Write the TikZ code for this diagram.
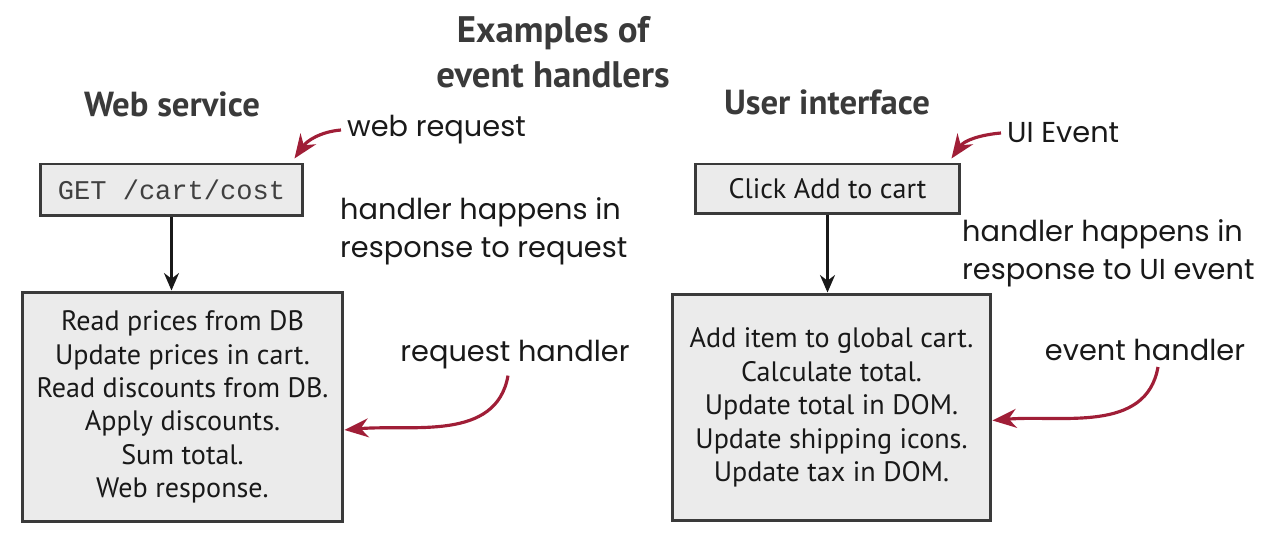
\documentclass[tikz,border=0pt]{standalone}
\usepackage{fontspec}
\setmainfont{PT Sans}
\setmonofont{Liberation Mono}
\newfontfamily\handfont{Poppins}
\usepackage{tikz}
\usetikzlibrary{positioning,arrows.meta}
\definecolor{boxbg}{gray}{0.92}
\definecolor{inkdark}{HTML}{3A3A3A}
\definecolor{notered}{RGB}{160,30,55}

\tikzset{
  box/.style={draw=inkdark,line width=1.7pt,fill=boxbg,align=center,text=black!90,
    font=\fontsize{16}{19}\selectfont},
  heading/.style={font=\bfseries\fontsize{19.8}{22}\selectfont,text=inkdark},
  hand/.style={font=\handfont\fontsize{16.4}{21.5}\selectfont,align=left,text=black!90},
  redarrow/.style={draw=notered,line width=1.8pt,-{Stealth[length=4.8mm,width=3.8mm]}},
  flow/.style={draw=black!90,line width=1.5pt,-{Stealth[length=3.5mm,width=3mm]}}
}

\begin{document}
\begin{tikzpicture}[x=0.02cm,y=-0.02cm]
  \useasboundingbox (0,0) rectangle (1272,540);

  \node[font=\bfseries\fontsize{21}{25.5}\selectfont,text=inkdark,align=center] (title) at (553,52)
    {Examples of\\event handlers};
  \node[heading] (ws) at (172,104) {Web service};
  \node[heading] (ui) at (827,102) {User interface};

  % web service side
  \node[box,minimum width=5.26cm,minimum height=1.04cm,font=\ttfamily\fontsize{15.4}{18}\selectfont,
    text=black!75] (get) at (171.5,190) {GET /cart/cost};
  \node[box,minimum width=6.42cm,minimum height=4.6cm] (lbox) at (182.5,407)
    {Read prices from DB\\Update prices in cart.\\Read discounts from DB.\\Apply discounts.\\Sum total.\\Web response.};
  \draw[flow] (get.south) -- (get.south |- lbox.north);

  \node[hand,anchor=west] (wr) at (341,130) {web request};
  \node[hand,anchor=west] (hr) at (334,231) {handler happens in\\response to request};
  \node[hand] (rh) at (515,355) {request handler};
  \draw[redarrow] (wr.west) to[out=185,in=55] ([xshift=-0.2cm,yshift=0.08cm]get.north east);
  \draw[redarrow] ([xshift=-0.14cm]rh.south) to[out=-100,in=5] ([yshift=-0.46cm]lbox.east);

  % user interface side
  \node[box,minimum width=5.3cm,minimum height=1.0cm] (click) at (827.5,189) {Click Add to cart};
  \node[box,minimum width=6.38cm,minimum height=4.54cm] (rbox) at (831.5,407.5)
    {Add item to global cart.\\Calculate total.\\Update total in DOM.\\Update shipping icons.\\Update tax in DOM.};
  \draw[flow] (click.south) -- (click.south |- rbox.north);

  \node[hand,anchor=west] (ue) at (1001,133) {UI Event};
  \node[hand,anchor=west] (hu) at (956,253) {handler happens in\\response to UI event};
  \node[hand] (eh) at (1145,350) {event handler};
  \draw[redarrow] (ue.west) to[out=185,in=55] ([xshift=-0.2cm,yshift=0.08cm]click.north east);
  \draw[redarrow] ([xshift=0.26cm]eh.south) to[out=-100,in=5] ([yshift=-0.26cm]rbox.east);
\end{tikzpicture}
\end{document}
